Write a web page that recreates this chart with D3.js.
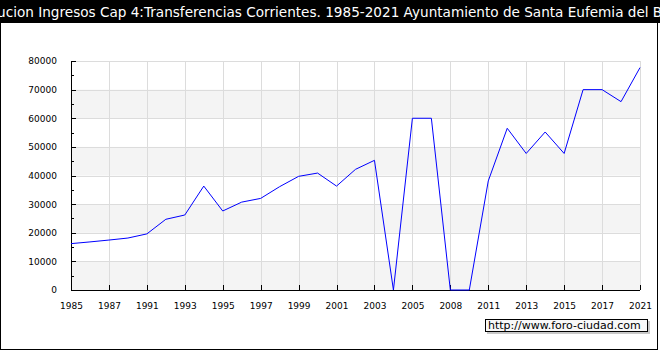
<!DOCTYPE html>
<html>
<head>
<meta charset="utf-8">
<script src="https://d3js.org/d3.v7.min.js"></script>
<style>
  body { margin: 0; padding: 0; background: #ffffff; }
  svg { display: block; }
  .axis text { font-family: "DejaVu Sans", Verdana, sans-serif; font-size: 9px; fill: #000; }
  .axis path, .axis line { stroke: #000; shape-rendering: crispEdges; }
</style>
</head>
<body>
<script>
// data: every category on the x axis
var years  = ["1985","1986","1987","1989","1991","1992","1993","1994","1995","1996",
              "1997","1998","1999","2000","2001","2002","2003","2004","2005","2007",
              "2008","2010","2011","2012","2013","2014","2015","2016","2017","2019","2021"];
var values = [16200, 16800, 17450, 18150, 19600, 24700, 26200, 36300, 27600, 30700,
              32000, 36100, 39700, 40850, 36300, 42150, 45300, 0, 60000, 60000,
              0, 0, 38100, 56500, 47700, 55200, 47700, 70000, 70000, 65800, 77700];
var yTicks = [0, 10000, 20000, 30000, 40000, 50000, 60000, 70000, 80000];
var title = "Evolucion Ingresos Cap 4:Transferencias Corrientes. 1985-2021 Ayuntamiento de Santa Eufemia del Barco";
var credit = "http://www.foro-ciudad.com";

var W = 660, H = 350;
var margin = {top: 61, right: 20, bottom: 60, left: 71},
    width = 640 - margin.left,
    height = 290 - margin.top;

var svg = d3.select("body").append("svg")
    .attr("width", W)
    .attr("height", H);

// frame + title bar (title overflows the bar on both sides, as in the original)
svg.append("rect")
    .attr("x", 0.5).attr("y", 0.5)
    .attr("width", 657).attr("height", 349)
    .attr("fill", "#fff").attr("stroke", "#000");
svg.append("rect")
    .attr("x", 0).attr("y", 0)
    .attr("width", W).attr("height", 23)
    .attr("fill", "#000");
svg.append("text")
    .attr("x", W / 2).attr("y", 17)
    .attr("text-anchor", "middle")
    .style("font-family", "'DejaVu Sans', Verdana, sans-serif")
    .style("font-size", "13.6px")
    .attr("fill", "#fff")
    .text(title);

var g = svg.append("g")
    .attr("transform", "translate(" + margin.left + "," + margin.top + ")");

var x = d3.scalePoint().domain(years).range([0, width]);
var y = d3.scaleLinear().domain([0, 80000]).range([height, 0]);

// alternating bands
for (var i = 0; i < yTicks.length - 1; i++) {
    if (i % 2 == 0) {
        g.append("rect")
            .attr("x", 0).attr("width", width)
            .attr("y", y(yTicks[i + 1]))
            .attr("height", y(yTicks[i]) - y(yTicks[i + 1]))
            .attr("fill", "#f4f4f4");
    }
}

var xLabels = years.filter(function(d, i) { return i % 2 == 0; });

// gridlines
g.selectAll(".hgrid").data(yTicks).enter().append("line")
    .attr("x1", 0).attr("x2", width)
    .attr("y1", function(d) { return Math.round(y(d)) + 0.5; })
    .attr("y2", function(d) { return Math.round(y(d)) + 0.5; })
    .attr("stroke", "#dcdcdc");
g.selectAll(".vgrid").data(xLabels).enter().append("line")
    .attr("x1", function(d) { return Math.round(x(d)) + 0.5; })
    .attr("x2", function(d) { return Math.round(x(d)) + 0.5; })
    .attr("y1", 0).attr("y2", height)
    .attr("stroke", "#dcdcdc");

// x axis (ticks pointing inward)
var xAxis = g.append("g")
    .attr("class", "axis")
    .attr("transform", "translate(0," + height + ")")
    .call(d3.axisBottom(x).tickValues(xLabels).tickSizeInner(-5).tickSizeOuter(0).tickPadding(13));
xAxis.select(".domain").attr("d", "M0,0.5H" + width);

// y axis minor ticks
g.append("g")
    .attr("class", "axis")
    .call(d3.axisLeft(y).tickValues(d3.range(5000, 80000, 10000)).tickSize(-3).tickFormat(""))
    .select(".domain").remove();
// y axis
var yAxis = g.append("g")
    .attr("class", "axis")
    .call(d3.axisLeft(y).tickValues(yTicks).tickSizeInner(-5).tickSizeOuter(0).tickPadding(14)
        .tickFormat(d3.format("d")));

// line
var line = d3.line()
    .x(function(d, i) { return x(years[i]); })
    .y(function(d) { return y(d); });
g.append("path")
    .datum(values)
    .attr("fill", "none")
    .attr("stroke", "#0000ff")
    .attr("stroke-width", 1)
    .attr("d", line);

// credit box
var cb = svg.append("g").attr("transform", "translate(485,319)");
cb.append("rect")
    .attr("x", 2).attr("y", 2).attr("width", 163).attr("height", 13)
    .attr("fill", "#c8c8c8");
cb.append("rect")
    .attr("x", 0.5).attr("y", 0.5).attr("width", 162).attr("height", 12)
    .attr("fill", "#f8f8f8").attr("stroke", "#000");
cb.append("text")
    .attr("x", 3).attr("y", 10)
    .style("font-family", "'DejaVu Sans', Verdana, sans-serif")
    .style("font-size", "11px")
    .text(credit);
</script>
</body>
</html>
